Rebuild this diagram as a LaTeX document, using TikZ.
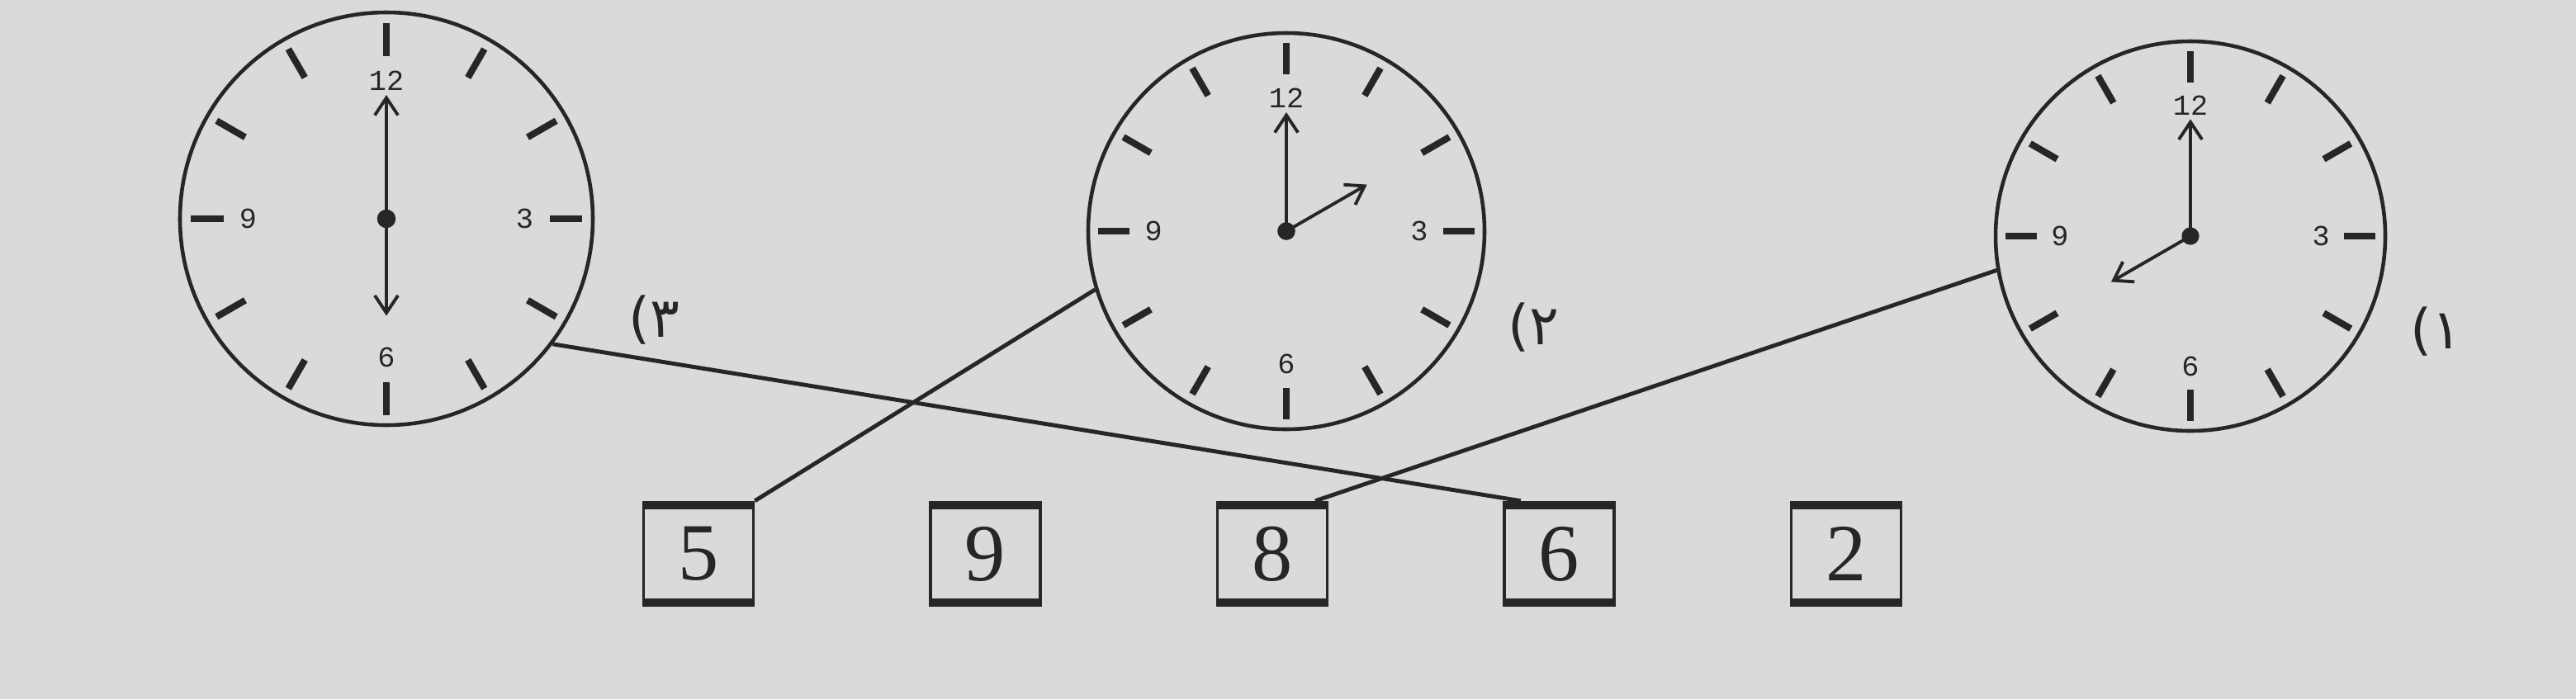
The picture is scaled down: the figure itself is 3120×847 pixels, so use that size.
\documentclass[tikz,border=0pt]{standalone}
\usepackage{fontspec}
\setmainfont{Liberation Serif}
\newfontfamily\dialfont{Liberation Mono}
\newfontfamily\arabicfont[Script=Arabic]{DejaVu Sans}
\TeXXeTstate=1
\usetikzlibrary{arrows.meta}
\definecolor{paper}{RGB}{218,218,218}
\definecolor{ink}{RGB}{38,38,38}
\newcommand{\dial}[5]{%
  \node [face, minimum size={#3*0.2mm}] (#1) at (#2) {};
  \begin{scope}[shift={(#2)}, scale=#3]
    \foreach \a in {0,30,...,330} \draw [tick] (\a:0.79) -- (\a:0.95);
    \foreach \a/\n in {90/12,0/3,270/6,180/9} \node [hour] at (\a:0.67) {\n};
    \draw [hand] (0,0) -- (#5:0.6);
    \draw [hand] (0,0) -- (#4:0.47);
    \fill [ink] (0,0) circle (0.045);
  \end{scope}}

\begin{document}
\begin{tikzpicture}[x=0.1mm, y=0.1mm,
  face/.style={circle, draw=ink, line width=1.3pt, inner sep=0pt},
  tick/.style={draw=ink, line width=2.3pt},
  hour/.style={font=\dialfont\fontsize{10}{10}\selectfont, text=ink, inner sep=0pt},
  hand/.style={draw=ink, line width=1.1pt, -{Straight Barb[length=6pt,width=8pt]}},
  numbox/.style={draw=ink, line width=1pt, minimum width=13.3mm, minimum height=12.5mm, inner sep=0pt,
    font=\fontsize{28}{28}\selectfont, text=ink,
    path picture={\draw [ink, line width=5pt] (path picture bounding box.north west) -- (path picture bounding box.north east)
      (path picture bounding box.south west) -- (path picture bounding box.south east);}},
  tag/.style={font=\arabicfont\fontsize{19}{19}\selectfont, text=ink, inner sep=0pt},
  link/.style={draw=ink, line width=1.4pt}]
\fill [paper] (0,0) rectangle (3120,-847);
\dial{d3}{468,-265}{250}{270}{90}
\dial{d2}{1558,-280}{240}{30}{90}
\dial{d1}{2653,-286}{236}{210}{90}
\node [tag] (t3) at (792,-388) {\beginR ۳)\endR};
\node [tag] (t2) at (1857,-397) {\beginR ۲)\endR};
\node [tag] (t1) at (2950,-402) {\beginR ۱)\endR};
\matrix [column sep=21.1mm] at (1541,-671)
{
  \node [numbox] (b5) {5}; & \node [numbox] (b9) {9}; & \node [numbox] (b8) {8}; & \node [numbox] (b6) {6}; & \node [numbox] (b2) {2}; \\
};
\draw [link] (d3.-37) to (b6.126);
\draw [link] (d2.197) to (b5.north east);
\draw [link] (d1.190) to (b8.51);
\end{tikzpicture}
\end{document}
